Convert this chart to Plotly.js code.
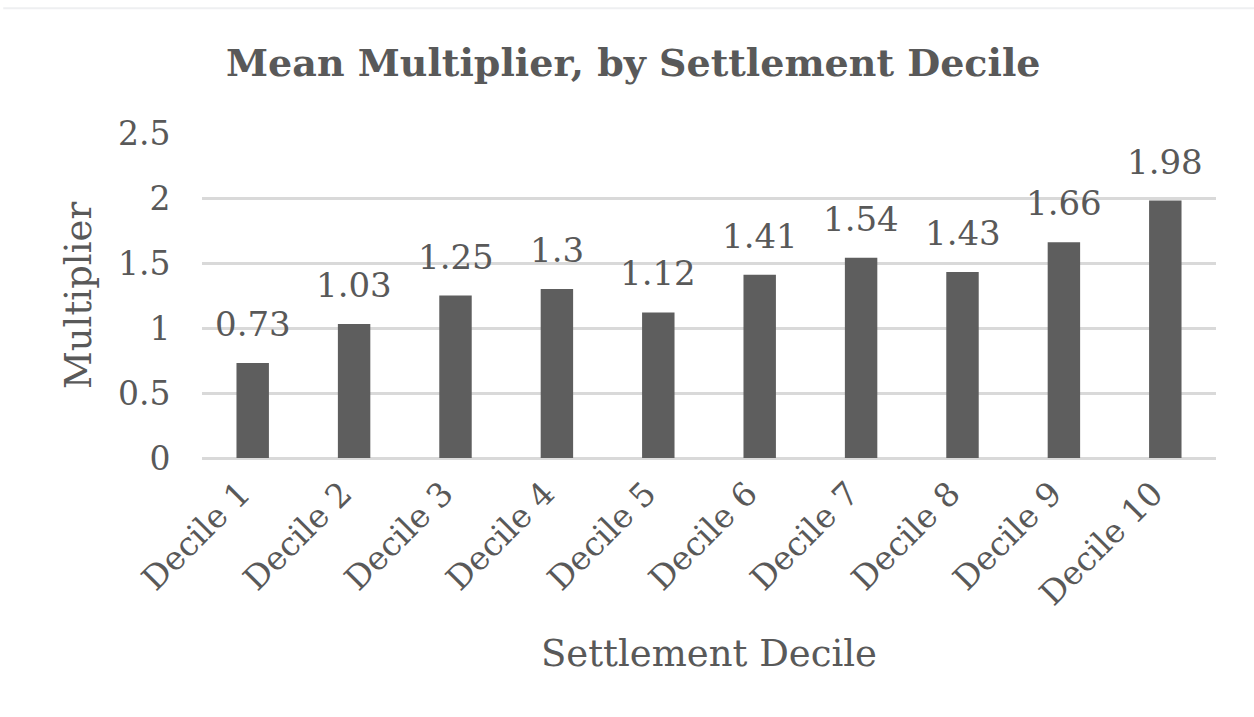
<!DOCTYPE html>
<html>
<head>
<meta charset="utf-8">
<script src="https://cdn.plot.ly/plotly-3.0.1.min.js"></script>
<style>html,body{margin:0;padding:0;background:#fff;}#chart{width:1254px;height:717px;}</style>
</head>
<body>
<div id="chart"></div>
<script>
const categories = ["Decile 1","Decile 2","Decile 3","Decile 4","Decile 5","Decile 6","Decile 7","Decile 8","Decile 9","Decile 10"];
const multipliers = [0.73, 1.03, 1.25, 1.3, 1.12, 1.41, 1.54, 1.43, 1.66, 1.98];
const valueLabels = ["0.73","1.03","1.25","1.3","1.12","1.41","1.54","1.43","1.66","1.98"];
const yTicks = [0, 0.5, 1, 1.5, 2, 2.5];
const yTickText = ["0","0.5","1","1.5","2","2.5"];

const FONT = "DejaVu Serif";
const GREY = "#595959";

const trace = {
  type: "bar",
  x: categories,
  y: multipliers,
  width: 0.32,
  marker: {color: "#5e5e5e"},
  hoverinfo: "x+y"
};

const annotations = categories.map((c, i) => ({
  x: c, y: multipliers[i], xref: "x", yref: "y",
  text: valueLabels[i], showarrow: false,
  yanchor: "bottom", yshift: 17,
  font: {family: FONT, size: 34, color: GREY}
}));

const layout = {
  width: 1254, height: 717,
  paper_bgcolor: "#fff", plot_bgcolor: "#fff",
  margin: {l: 202, r: 38, t: 133, b: 259},
  title: {text: "<b>Mean Multiplier, by Settlement Decile</b>", x: 0.505, xanchor: "center", y: 0.913, yanchor: "middle",
          font: {family: FONT, size: 38, color: GREY}},
  showlegend: false,
  xaxis: {
    type: "category",
    tickangle: -45,
    tickfont: {family: FONT, size: 33, color: GREY},
    ticks: "outside", ticklen: 2, tickcolor: "rgba(0,0,0,0)",
    ticklabelshift: -12,
    showline: false, showgrid: false, zeroline: false,
    title: {text: "Settlement Decile", font: {family: FONT, size: 37, color: GREY}, standoff: 28}
  },
  yaxis: {
    range: [0, 2.5],
    tickvals: yTicks, ticktext: yTickText,
    tickfont: {family: FONT, size: 33, color: GREY},
    ticks: "outside", ticklen: 24, tickcolor: "rgba(0,0,0,0)",
    showgrid: true, gridcolor: "#d9d9d9", gridwidth: 3,
    zeroline: true, zerolinecolor: "#d9d9d9", zerolinewidth: 3,
    showline: false,
    title: {text: "Multiplier", font: {family: FONT, size: 37, color: GREY}, standoff: 14}
  },
  annotations: annotations,
  shapes: [{type: "line", xref: "paper", yref: "paper", x0: -0.196, x1: 1.05, y0: 1.384, y1: 1.384,
            line: {color: "#eeeff1", width: 2}}]
};

Plotly.newPlot("chart", [trace], layout, {displayModeBar: false, staticPlot: true});
</script>
</body>
</html>
